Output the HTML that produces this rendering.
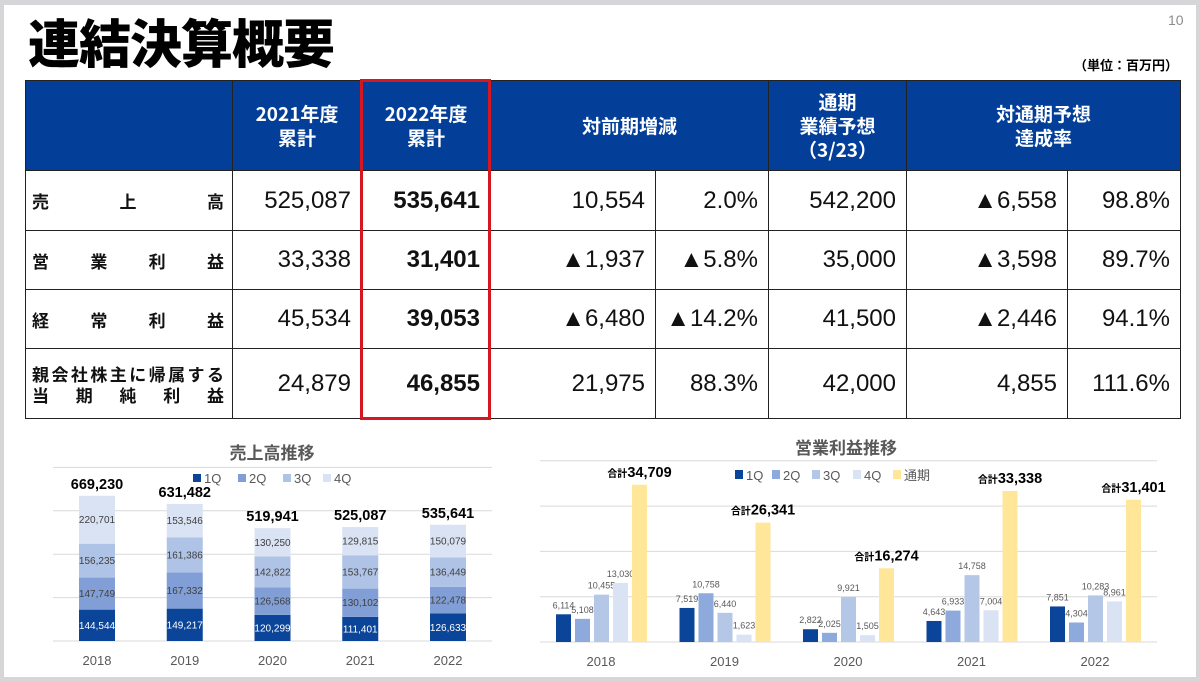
<!DOCTYPE html>
<html><head><meta charset="utf-8">
<style>
*{margin:0;padding:0;box-sizing:border-box}
body{width:1200px;height:682px;background:#d6d6d8;position:relative;overflow:hidden;font-family:"Liberation Sans","Noto Sans CJK JP",sans-serif}
#slide{position:absolute;left:4px;top:5px;width:1192px;height:672px;background:#fff}
.abs{position:absolute}
#title{left:28px;top:6px;font-size:52px;font-weight:900;font-family:"Noto Sans CJK JP",sans-serif;color:#000;letter-spacing:-1px;line-height:70px}
#pg{left:1168px;top:12px;font-size:14px;color:#8c8c8c}
#unit{left:1074px;top:55px;font-size:13px;font-weight:bold;font-family:"Noto Sans CJK JP",sans-serif}
table{position:absolute;left:25px;top:80px;border-collapse:collapse;table-layout:fixed}
td{border:1.5px solid #222;font-size:24px;text-align:right;padding-right:10px;color:#111;font-family:"Liberation Sans","DejaVu Sans","Noto Sans CJK JP",sans-serif}
th{background:#033f99;color:#fff;font-weight:bold;font-size:19px;line-height:24px;border:1.5px solid #222;font-family:"Noto Sans CJK JP",sans-serif}
td.lab{text-align:justify;text-align-last:justify;font-size:17px;font-weight:bold;padding:0 8px 0 6px;font-family:"Noto Sans CJK JP",sans-serif;line-height:21px}
td.b{font-weight:bold}
#red{left:360px;top:79px;width:131px;height:341px;border:3px solid #d41720}
svg text{font-family:"Liberation Sans","Noto Sans CJK JP",sans-serif}
</style></head><body>
<div id="slide"></div>
<div class="abs" id="title">連結決算概要</div>
<div class="abs" id="pg">10</div>
<div class="abs" id="unit">（単位：百万円）</div>
<table>
<colgroup><col style="width:207px"><col style="width:129px"><col style="width:129px"><col style="width:165px"><col style="width:113px"><col style="width:138px"><col style="width:161px"><col style="width:113px"></colgroup>
<tr style="height:90px">
<th></th>
<th>2021年度<br>累計</th>
<th>2022年度<br>累計</th>
<th colspan="2">対前期増減</th>
<th>通期<br>業績予想<br>（3/23）</th>
<th colspan="2">対通期予想<br>達成率</th>
</tr>
<tr style="height:60px">
<td class="lab">売　上　高</td><td>525,087</td><td class="b">535,641</td><td>10,554</td><td>2.0%</td><td>542,200</td><td>▲6,558</td><td>98.8%</td></tr>
<tr style="height:59px">
<td class="lab">営　業　利　益</td><td>33,338</td><td class="b">31,401</td><td>▲1,937</td><td>▲5.8%</td><td>35,000</td><td>▲3,598</td><td>89.7%</td></tr>
<tr style="height:59px">
<td class="lab">経　常　利　益</td><td>45,534</td><td class="b">39,053</td><td>▲6,480</td><td>▲14.2%</td><td>41,500</td><td>▲2,446</td><td>94.1%</td></tr>
<tr style="height:70px">
<td class="lab"><div style="text-align-last:justify">親会社株主に帰属する</div><div style="text-align-last:justify">当　期　純　利　益</div></td><td>24,879</td><td class="b">46,855</td><td>21,975</td><td>88.3%</td><td>42,000</td><td>4,855</td><td>111.6%</td></tr>
</table>
<div class="abs" id="red"></div>

<svg class="abs" style="left:0;top:0" width="1200" height="682" id="charts"></svg>
<script>
const salesYears=["2018","2019","2020","2021","2022"];
const salesQ1=[144544,149217,120299,111401,126633];
const salesQ2=[147749,167332,126568,130102,122478];
const salesQ3=[156235,161386,142822,153767,136449];
const salesQ4=[220701,153546,130250,129815,150079];
const salesTotals=[669230,631482,519941,525087,535641];
const salesGridTicks=[0,200000,400000,600000,800000];

const opYears=["2018","2019","2020","2021","2022"];
const opQ1=[6114,7519,2822,4643,7851];
const opQ2=[5108,10758,2025,6933,4304];
const opQ3=[10455,6440,9921,14758,10283];
const opQ4=[13030,1623,1505,7004,8961];
const opFull=[34709,26341,16274,33338,31401];
const opGridTicks=[0,10000,20000,30000,40000];

const svg=document.getElementById('charts');
const NS='http://www.w3.org/2000/svg';
function mk(tag,attrs,txt){const e=document.createElementNS(NS,tag);for(const k in attrs)e.setAttribute(k,attrs[k]);if(txt!==undefined)e.textContent=txt;svg.appendChild(e);return e;}
const fmt=v=>v.toLocaleString('en-US');

// ---- sales chart ----
const sy=v=>641-v/100000*21.7;
const sx=i=>79+i*87.75;
const sW=36;
salesGridTicks.forEach(t=>{const l=mk('line',{x1:53,x2:492,y1:sy(t),y2:sy(t),stroke:'#d9d9d9','stroke-width':1});

});
let t=mk('text',{x:272,y:459,'text-anchor':'middle','font-size':17,'font-weight':'bold',fill:'#595959'},'売上高推移');


const sCols=['#0b4599','#819fd6','#afc3e6','#dae3f3'];
const qNames=['1Q','2Q','3Q','4Q'];
const sLegX=[193,238,283,323];
qNames.forEach((q,j)=>{const r=mk('rect',{x:sLegX[j],y:474,width:8,height:8,fill:sCols[j]});


const tx=mk('text',{x:sLegX[j]+11,y:483,'font-size':13,fill:'#595959'},q);

});
const sSeries=[salesQ1,salesQ2,salesQ3,salesQ4];
salesYears.forEach((yr,i)=>{
  let base=0;
  sSeries.forEach((ser,j)=>{
    const v=ser[i];const y0=sy(base),y1=sy(base+v);
    const r=mk('rect',{x:sx(i),y:y1,width:sW,height:y0-y1,fill:sCols[j]});
    
    
    const tx=mk('text',{x:sx(i)+sW/2,y:(y0+y1)/2+3.5,'text-anchor':'middle','font-size':10,fill:j==0?'#fff':'#404040'},fmt(v));
    
    
    base+=v;
  });
  const tt=mk('text',{x:sx(i)+sW/2,y:sy(salesTotals[i])-7,'text-anchor':'middle','font-size':14.5,'font-weight':'bold',fill:'#000'},fmt(salesTotals[i]));
  
  
  const yl=mk('text',{x:sx(i)+sW/2,y:665,'text-anchor':'middle','font-size':13,fill:'#595959'},yr);
  
  
});

// ---- operating profit chart ----
const oy=v=>642-v*0.00453;
const ox=(i,j)=>556+i*123.5+j*19;
const oW=15;
opGridTicks.forEach(tk=>{const l=mk('line',{x1:540,x2:1157,y1:oy(tk),y2:oy(tk),stroke:'#d9d9d9','stroke-width':1});

});
t=mk('text',{x:846,y:454,'text-anchor':'middle','font-size':17,'font-weight':'bold',fill:'#595959'},'営業利益推移');


const oCols=['#0b4599','#8ea9db','#b4c7e7','#dae3f3','#ffe699'];
const oNames=['1Q','2Q','3Q','4Q','通期'];
const oLegX=[735,772,812,853,893];
oNames.forEach((q,j)=>{const r=mk('rect',{x:oLegX[j],y:470,width:8,height:9,fill:oCols[j]});


const tx=mk('text',{x:oLegX[j]+11,y:480,'font-size':13,fill:'#595959'},q);

});
const oSeries=[opQ1,opQ2,opQ3,opQ4,opFull];
opYears.forEach((yr,i)=>{
  oSeries.forEach((ser,j)=>{
    const v=ser[i];
    const r=mk('rect',{x:ox(i,j),y:oy(v),width:oW,height:oy(0)-oy(v),fill:oCols[j]});
    
    
    if(j<4){
      const tx=mk('text',{x:ox(i,j)+oW/2,y:oy(v)-6,'text-anchor':'middle','font-size':9,fill:'#595959'},fmt(v));
      
      
    }else{
      const tx=mk('text',{x:ox(i,j)+oW/2,y:oy(v)-8,'text-anchor':'middle',fill:'#000'});
      
      
      const a=document.createElementNS(NS,'tspan');a.setAttribute('font-size','10');a.setAttribute('font-weight','bold');a.textContent='合計';tx.appendChild(a);
      const b=document.createElementNS(NS,'tspan');b.setAttribute('font-size','14.5');b.setAttribute('font-weight','bold');b.textContent=fmt(v);tx.appendChild(b);
    }
  });
  const yl=mk('text',{x:ox(i,0)+45,y:666,'text-anchor':'middle','font-size':13,fill:'#595959'},yr);
  
  
});
</script>
</body></html>
